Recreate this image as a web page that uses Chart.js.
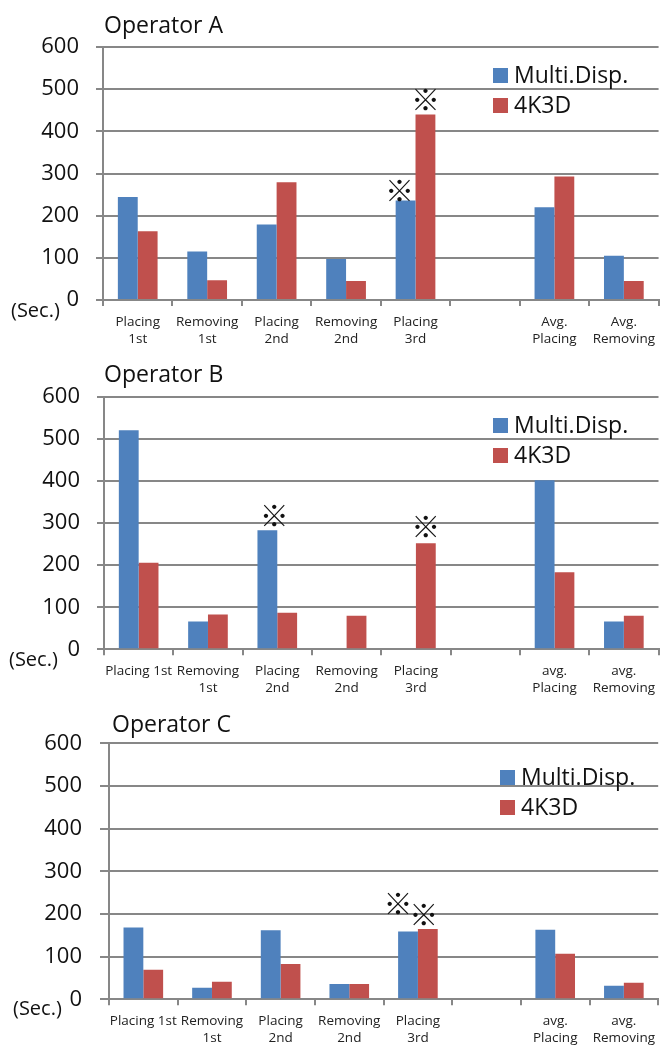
<!DOCTYPE html>
<html>
<head>
<meta charset="utf-8">
<script src="https://cdn.jsdelivr.net/npm/chart.js@4"></script>
<style>
  html, body { margin: 0; padding: 0; background: #fff; }
  #wrap { position: relative; width: 662px; height: 1048px; }
  canvas { position: absolute; left: 0; }
</style>
</head>
<body>
<div id="wrap">
  <canvas id="chartA" width="662" height="350" style="top:0"></canvas>
  <canvas id="chartB" width="662" height="350" style="top:350px"></canvas>
  <canvas id="chartC" width="662" height="348" style="top:700px"></canvas>
</div>
<script>
// Task categories (the sixth slot is an empty spacer before the averages)
const labelsA = [['Placing', '1st'], ['Removing', '1st'], ['Placing', '2nd'], ['Removing', '2nd'], ['Placing', '3rd'], '', ['Avg.', 'Placing'], ['Avg.', 'Removing']];
const labelsBC = ['Placing 1st', ['Removing', '1st'], ['Placing', '2nd'], ['Removing', '2nd'], ['Placing', '3rd'], '', ['avg.', 'Placing'], ['avg.', 'Removing']];

const seriesNames = ['Multi.Disp.', '4K3D'];
const yTicks = [0, 100, 200, 300, 400, 500, 600];

// Times in seconds
const multiA = [244, 115, 179, 97, 236, null, 220, 105];
const k4A    = [163, 47, 279, 45, 440, null, 293, 45];
const multiB = [521, 66, 283, null, null, null, 402, 66];
const k4B    = [206, 83, 87, 80, 252, null, 183, 80];
const multiC = [168, 27, 162, 36, 159, null, 163, 32];
const k4C    = [69, 41, 83, 36, 165, null, 107, 39];

// ※ notes (1 = marked bar)
const noteMultiA = [0, 0, 0, 0, 1, 0, 0, 0];
const noteK4A    = [0, 0, 0, 0, 1, 0, 0, 0];
const noteMultiB = [0, 0, 1, 0, 0, 0, 0, 0];
const noteK4B    = [0, 0, 0, 0, 1, 0, 0, 0];
const noteMultiC = [0, 0, 0, 0, 1, 0, 0, 0];
const noteK4C    = [0, 0, 0, 0, 1, 0, 0, 0];

const BLUE = '#4F81BD';
const RED = '#C0504D';
const GRID = '#878787';
const FONT = '"Open Sans", "Liberation Sans", sans-serif';

// Title, unit label, in-plot legend and ※ notes
const decor = {
  id: 'decor',
  afterDraw(chart, args, o) {
    const ctx = chart.ctx;
    ctx.save();
    ctx.fillStyle = '#111';
    ctx.textAlign = 'left';
    ctx.textBaseline = 'alphabetic';
    ctx.font = '23px ' + FONT;
    ctx.fillText(o.title, o.titleX, o.titleY);

    ctx.textBaseline = 'middle';
    ctx.font = '20px ' + FONT;
    ctx.fillText('(Sec.)', o.unitX, o.unitY);

    chart.data.datasets.forEach((ds, i) => {
      const y = o.legendY + i * 30;
      ctx.fillStyle = ds.backgroundColor;
      ctx.fillRect(o.legendX, y, 15, 15);
      ctx.fillStyle = '#111';
      ctx.font = '23px ' + FONT;
      ctx.fillText(ds.label, o.legendX + 21, y + 8);
    });

    ctx.font = '29px "Noto Sans CJK JP", "DejaVu Sans", sans-serif';
    ctx.textAlign = 'center';
    ctx.fillStyle = '#111';
    chart.data.datasets.forEach((ds, i) => {
      const meta = chart.getDatasetMeta(i);
      const flags = o.notes[i] || [];
      const shift = (o.noteShift && o.noteShift[i]) || [0, 0];
      flags.forEach((flag, j) => {
        if (!flag) return;
        const bar = meta.data[j];
        ctx.fillText('\u203B', bar.x + shift[0], bar.y - 14 + shift[1]);
      });
    });
    ctx.restore();
  }
};

function makeChart(id, labels, multi, k4, p) {
  return new Chart(document.getElementById(id), {
    type: 'bar',
    data: {
      labels: labels,
      datasets: [
        { label: seriesNames[0], data: multi, backgroundColor: BLUE },
        { label: seriesNames[1], data: k4, backgroundColor: RED }
      ]
    },
    options: {
      responsive: false,
      devicePixelRatio: 1,
      animation: false,
      layout: { padding: { top: p.top, right: 0, bottom: 0, left: 0 } },
      datasets: { bar: { barPercentage: 1, categoryPercentage: p.catPct } },
      plugins: {
        legend: { display: false },
        tooltip: { enabled: false },
        decor: p.decor
      },
      scales: {
        x: {
          grid: { offset: true, drawOnChartArea: false, tickLength: 6, color: GRID, lineWidth: 2 },
          border: { color: GRID, width: 2 },
          ticks: {
            autoSkip: false, maxRotation: 0, minRotation: 0, padding: 7,
            color: '#222', font: { family: FONT, size: 13.5, lineHeight: 1.3 }
          },
          afterFit: s => { s.height = p.xHeight; }
        },
        y: {
          min: 0, max: 600,
          afterBuildTicks: s => { s.ticks = yTicks.map(v => ({ value: v })); },
          grid: { color: GRID, lineWidth: 2, tickLength: p.yTickLen },
          border: { color: GRID, width: 2 },
          ticks: { padding: p.yPad, color: '#111', font: { family: FONT, size: 22 } },
          afterFit: s => { s.width = p.left; }
        }
      }
    },
    plugins: [decor]
  });
}

makeChart('chartA', labelsA, multiA, k4A, {
  top: 47, xHeight: 50, left: 103, yTickLen: 7, yPad: 17, catPct: 0.572,
  decor: { title: 'Operator A', titleX: 104, titleY: 33, unitX: 11, unitY: 311,
           legendX: 493, legendY: 68, notes: [noteMultiA, noteK4A], noteShift: [[-6, 4], [0, 0]] }
});
makeChart('chartB', labelsBC, multiB, k4B, {
  top: 47, xHeight: 50.7, left: 104, yTickLen: 7, yPad: 17, catPct: 0.572,
  decor: { title: 'Operator B', titleX: 104, titleY: 32, unitX: 9, unitY: 310,
           legendX: 493, legendY: 68, notes: [noteMultiB, noteK4B], noteShift: [[7, 0], [0, -2]] }
});
makeChart('chartC', labelsBC, multiC, k4C, {
  top: 43.3, xHeight: 48.7, left: 109, yTickLen: 9, yPad: 18, catPct: 0.577,
  decor: { title: 'Operator C', titleX: 112, titleY: 31.5, unitX: 13, unitY: 309,
           legendX: 500, legendY: 70, notes: [noteMultiC, noteK4C], noteShift: [[-10, -13], [-4, 0]] }
});
</script>
</body>
</html>
